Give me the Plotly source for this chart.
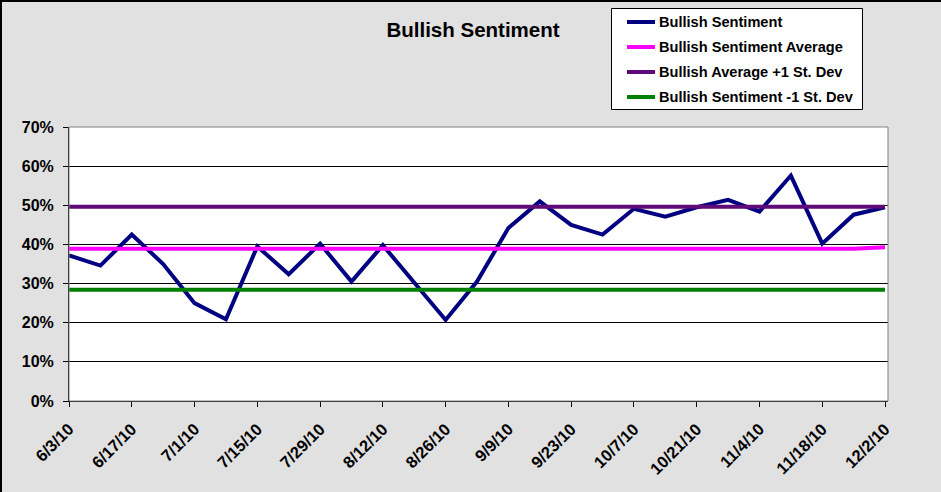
import plotly.graph_objects as go
import pandas as pd

dates = pd.date_range("2010-06-03", "2010-12-02", freq="7D")
bullish = [37.2, 34.6, 42.5, 35.0, 25.0, 20.9, 39.5, 32.4, 40.2, 30.5, 39.8, 30.3, 20.7,
           30.5, 44.2, 51.0, 45.0, 42.5, 49.1, 47.1, 49.5, 51.4, 48.4, 57.6, 40.2, 47.6, 49.5]
average = [38.9] * 26 + [39.3]
plus_sd = [49.6] * 27
minus_sd = [28.4] * 27
yticks = [0, 10, 20, 30, 40, 50, 60, 70]
ytick_text = ["0%", "10%", "20%", "30%", "40%", "50%", "60%", "70%"]
series_names = ["Bullish Sentiment", "Bullish Sentiment Average",
                "Bullish Average +1 St. Dev", "Bullish Sentiment -1 St. Dev"]
series_colors = ["#000080", "#FF00FF", "#5E0A78", "#008000"]

FONT = "Arial, 'Liberation Sans', sans-serif"
W, H = 941, 492
L, R, T, B = 69, 53, 127, 91
PW, PH = W - L - R, H - T - B


def px(xp):
    return (xp - L) / PW


def py(yp):
    return (H - B - yp) / PH


fig = go.Figure()
for name, vals, col in zip(series_names, [bullish, average, plus_sd, minus_sd], series_colors):
    fig.add_trace(go.Scatter(x=dates, y=vals, mode="lines", name=name,
                             line=dict(color=col, width=4), showlegend=False))

x0 = pd.Timestamp("2010-06-03")
x1 = pd.Timestamp("2010-12-02") + pd.Timedelta(hours=16)

shapes = [
    dict(type="rect", xref="paper", yref="paper", x0=0, x1=1, y0=0, y1=1,
         line=dict(color="#808080", width=1), layer="above"),
    dict(type="line", xref="paper", yref="paper", x0=px(0), x1=px(W + 5),
         y0=py(1), y1=py(1), line=dict(color="black", width=2)),
    dict(type="line", xref="paper", yref="paper", x0=px(1), x1=px(1),
         y0=py(1), y1=py(H + 5), line=dict(color="black", width=2)),
    # legend box
    dict(type="rect", xref="paper", yref="paper", x0=px(611.5), x1=px(862.5),
         y0=py(8.5), y1=py(109.5), fillcolor="white", line=dict(color="black", width=1)),
]
annotations = []
for i, (name, col) in enumerate(zip(series_names, series_colors)):
    yc = 22 + 25 * i
    shapes.append(dict(type="line", xref="paper", yref="paper", x0=px(627), x1=px(655),
                       y0=py(yc), y1=py(yc), line=dict(color=col, width=4)))
    annotations.append(dict(xref="paper", yref="paper", x=px(657), y=py(yc),
                            xanchor="left", yanchor="middle", showarrow=False,
                            text="<b>" + name + "</b>",
                            font=dict(size=14.6, family=FONT, color="black")))

fig.update_layout(
    width=W, height=H,
    margin=dict(l=L, r=R, t=T, b=B),
    paper_bgcolor="#E1E1E1",
    plot_bgcolor="white",
    font=dict(family=FONT, color="black"),
    title=dict(text="<b>Bullish Sentiment</b>", x=473/941, xanchor="center",
               y=1 - 30/492, yanchor="middle", font=dict(size=20.5, color="black")),
    showlegend=False,
    xaxis=dict(type="date", range=[x0, x1], tick0=x0, dtick=14*24*3600*1000,
               tickformat="%-m/%-d/%y", tickangle=-45,
               ticks="outside", ticklen=5, tickcolor="black", ticklabelstandoff=6,
               showline=True, linecolor="black", linewidth=1, mirror=False,
               showgrid=False, zeroline=False,
               tickfont=dict(size=16.5, family=FONT, color="black", weight="bold")),
    yaxis=dict(range=[0, 70], tickvals=yticks, ticktext=ytick_text,
               ticks="outside", ticklen=5, tickcolor="black", ticklabelstandoff=6,
               showline=True, linecolor="black", linewidth=1,
               showgrid=True, gridcolor="black", gridwidth=1, zeroline=False,
               tickfont=dict(size=16, family=FONT, color="black", weight="bold")),
    shapes=shapes,
    annotations=annotations,
)

fig.write_html("out.html", config={"displayModeBar": False},
               post_script="document.body.style.margin='0';document.body.style.padding='0';")
